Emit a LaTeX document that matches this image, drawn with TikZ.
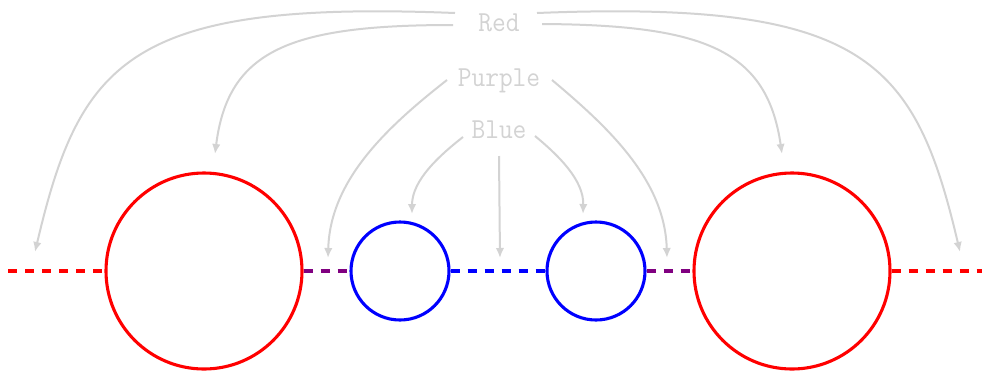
\documentclass[tikz,border=0pt]{standalone}
\usetikzlibrary{arrows.meta}
\definecolor{lg}{RGB}{211,211,211}
\definecolor{pu}{RGB}{128,0,128}
\newcommand{\lbltext}[1]{\scalebox{0.92}[1]{#1}}
\begin{document}
\begin{tikzpicture}[x=1pt,y=-1pt,
  lbl/.style={text=lg,font=\fontsize{29}{29}\selectfont\ttfamily,inner sep=0pt,anchor=base},
  conn/.style={draw=lg,line width=2pt,-{Latex[length=10pt,width=8.5pt]}},
  ring/.style={circle,draw,line width=3.1pt,inner sep=0pt},
  link/.style={line width=3.6pt,dash pattern=on 9pt off 8pt}]
\useasboundingbox (0,0) rectangle (982,373);
\coordinate (lend) at (8,271);
\coordinate (rend) at (982,271);
\node[ring,draw=red,minimum size=196pt] (r1) at (204,271) {};
\node[ring,draw=blue,minimum size=98pt] (b1) at (400,271) {};
\node[ring,draw=blue,minimum size=98pt] (b2) at (596,271) {};
\node[ring,draw=red,minimum size=196pt] (r2) at (792,271) {};
\draw[link,red] (lend) -- (r1.west);
\draw[link,pu] (r1.east) -- (b1.west);
\draw[link,blue] (b1.east) -- (b2.west);
\draw[link,pu] (b2.east) -- (r2.west);
\draw[link,red] (r2.east) -- (rend);
% labels
\node[lbl] (tred) at (499,31) {\lbltext{Red}};
\node[lbl] (tpur) at (499,86) {\lbltext{Purple}};
\node[lbl] (tblu) at (499,138) {\lbltext{Blue}};
% connector end points
\coordinate (rs1) at (455,13);
\coordinate (rs2) at (453,25);
\coordinate (rs3) at (537,13);
\coordinate (rs4) at (542,24);
\coordinate (re1) at (35,252);
\coordinate (re2) at (215,154);
\coordinate (re3) at (960,252);
\coordinate (re4) at (782,154);
\coordinate (ps1) at (447,80);
\coordinate (ps2) at (552,80);
\coordinate (pe1) at (328,258);
\coordinate (pe2) at (667,258);
\coordinate (bs1) at (463,137);
\coordinate (bs2) at (499,156);
\coordinate (bs3) at (535,136);
\coordinate (be1) at (412,214);
\coordinate (be2) at (500,258);
\coordinate (be3) at (583,214);
% connectors
\draw[conn] (rs1) .. controls (130,0) and (80,60) .. (re1);
\draw[conn] (rs2) .. controls (290,25) and (228,50) .. (re2);
\draw[conn] (rs3) .. controls (865,0) and (915,60) .. (re3);
\draw[conn] (rs4) .. controls (705,25) and (767,50) .. (re4);
\draw[conn] (ps1) .. controls (387,127) and (330,180) .. (pe1);
\draw[conn] (ps2) .. controls (608,127) and (665,180) .. (pe2);
\draw[conn] (bs1) .. controls (440,155) and (412,180) .. (be1);
\draw[conn] (bs2) -- (be2);
\draw[conn] (bs3) .. controls (558,155) and (584,180) .. (be3);
\end{tikzpicture}
\end{document}
